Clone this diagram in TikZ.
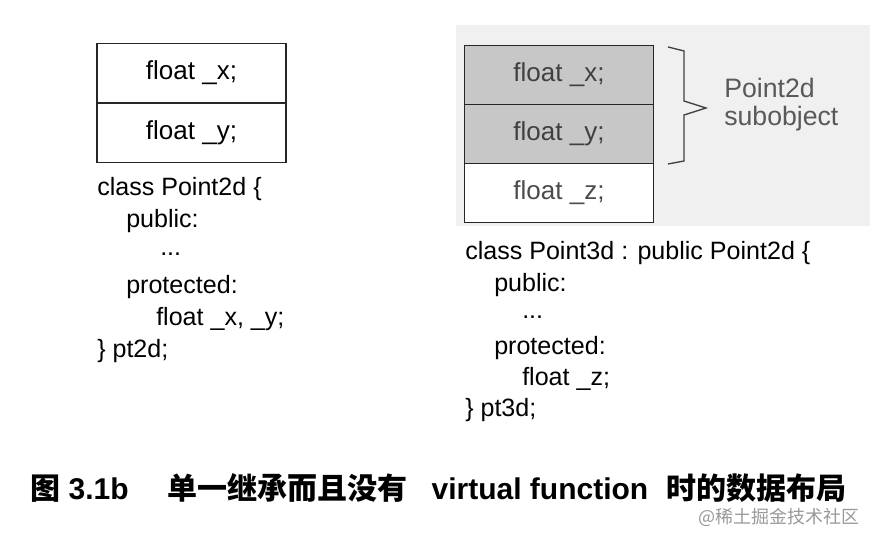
\documentclass[tikz,border=0pt]{standalone}
\usepackage{fontspec}
\setmainfont{Liberation Sans}
\newfontfamily\cjk{Noto Sans CJK SC}
\begin{document}
\begin{tikzpicture}[x=0.75pt,y=-0.75pt,
  cell/.style={draw=black!85,line width=1.2pt,minimum width=189*0.75pt,minimum height=59*0.75pt,inner sep=0pt,font=\fontsize{19.5}{22}\selectfont},
  code/.style={anchor=west,inner sep=0pt,font=\fontsize{18.8}{22}\selectfont},
  gcode/.style={anchor=west,inner sep=0pt,font=\fontsize{20}{22}\selectfont,text=black!65}]
\useasboundingbox (0,0) rectangle (874,543);
\fill[white] (0,0) rectangle (874,543);
\fill[black!6] (456,25) rectangle (870,226);
% left
\node[cell] (lx) at (191.5,73) {float \_x;};
\node[cell] (ly) at (191.5,133) {float \_y;};
\node[code] (l1) at (97,189) {class Point2d \{};
\node[code] (l2) at (126,221) {public:};
\node[code] (l3) at (160,254) {...};
\node[code] (l4) at (126,287) {protected:};
\node[code] (l5) at (156,319) {float \_x, \_y;};
\node[code] (l6) at (97,351) {\} pt2d;};
% right
\node[cell,fill=black!22,text=black!75] (rx) at (559,75) {float \_x;};
\node[cell,fill=black!22,text=black!75] (ry) at (559,134) {float \_y;};
\node[cell,fill=white,text=black!70] (rz) at (559,193) {float \_z;};
\draw[black!75,line width=1pt] (668,47) -- (684,51) -- (684,101) -- (706,108) -- (684,115) -- (684,161) -- (668,164);
\node[gcode] (s1) at (724,88) {Point2d};
\node[gcode] (s2) at (724,119) {subobject};
\node[code] (r1) at (465,253) {class Point3d : public Point2d \{};
\node[code] (r2) at (494,285) {public:};
\node[code] (r3) at (522,317) {...};
\node[code] (r4) at (494,348) {protected:};
\node[code] (r5) at (522,379) {float \_z;};
\node[code] (r6) at (465,410) {\} pt3d;};
% caption
\node[anchor=west,inner sep=0pt,font=\fontsize{22.5}{25}\selectfont\bfseries] (cap) at (30,488)
 {{\cjk\bfseries 图} 3.1b\hspace{1.3em}{\cjk\bfseries 单一继承而且没有}\hspace{0.8em}virtual function\hspace{0.6em}{\cjk\bfseries 时的数据布局}};
\node[anchor=east,inner sep=0pt,text=black!40,font=\cjk\fontsize{13.5}{15}\selectfont] (wm) at (860,517) {@稀土掘金技术社区};
\end{tikzpicture}
\end{document}
